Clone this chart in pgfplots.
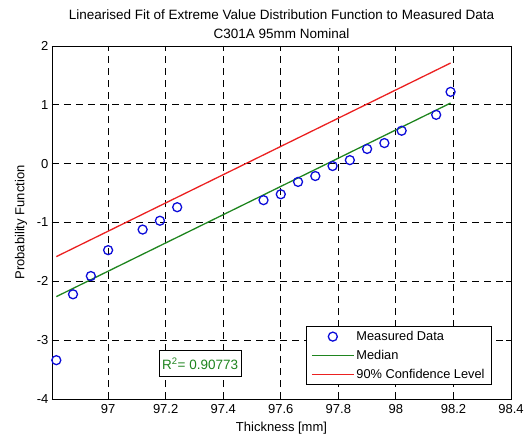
\documentclass[border=0pt]{standalone}
\usepackage{pgfplots}
\pgfplotsset{compat=1.18}
\usepackage{fontspec}
\setmainfont{Liberation Sans}
\definecolor{mgreen}{rgb}{0.12,0.52,0.12}
\definecolor{mred}{rgb}{0.92,0.13,0.13}
\definecolor{mblue}{rgb}{0.05,0.05,0.85}
\pgfplotsset{
  mylineleg/.style={legend image code/.code={\draw[##1] (0pt,0pt) -- (42pt,0pt);}},
  mymarkleg/.style={legend image code/.code={\draw[mark repeat=2,mark phase=2,##1] plot coordinates {(0pt,0pt)(21pt,0pt)(42pt,0pt)};}},
}
\begin{document}
\begin{tikzpicture}[x=1pt,y=1pt]
\path[use as bounding box] (-52,-38) rectangle (472,399);
\begin{axis}[
  at={(0,0)}, anchor=south west,
  scale only axis, width=459pt, height=353pt,
  xmin=96.805, xmax=98.4, ymin=-4, ymax=2,
  xtick={97,97.2,97.4,97.6,97.8,98,98.2,98.4},
  ytick={-4,-3,-2,-1,0,1,2},
  grid=major,
  major grid style={black, dash pattern=on 7pt off 5pt, line width=0.8pt},
  tick align=inside, major tick length=5pt,
  axis line style={black, line width=0.9pt},
  tick style={black, line width=0.8pt},
  /pgf/number format/assume math mode=true,
  ticklabel style={font=\fontsize{13}{15}\selectfont},
  xticklabel style={yshift=-2pt},
  xlabel={Thickness [mm]},
  ylabel={Probability Function},
  xlabel style={yshift=-1pt},
  ylabel style={yshift=3pt},
  label style={font=\fontsize{13}{15}\selectfont},
  title={Linearised Fit of Extreme Value Distribution Function to Measured Data\\C301A 95mm Nominal},
  title style={align=center, font=\fontsize{13.5}{19}\selectfont, yshift=-2pt},
  legend style={at={(1,0)}, anchor=south east, xshift=-19pt, yshift=14pt,
    draw=black, line width=0.9pt, fill=white,
    font=\fontsize{12.8}{15}\selectfont, row sep=4pt,
    inner xsep=5pt, inner ysep=3pt},
  legend cell align=left,
]
\addplot[only marks, mark=o, mark size=4.5pt, mblue, line width=1.3pt, mymarkleg]
coordinates {
(96.82,-3.34) (96.878,-2.22) (96.94,-1.91) (97.00,-1.47) (97.12,-1.12)
(97.18,-0.97) (97.24,-0.74) (97.54,-0.62) (97.60,-0.52) (97.66,-0.31)
(97.72,-0.21) (97.78,-0.04) (97.84,0.06) (97.90,0.25) (97.96,0.35)
(98.02,0.56) (98.14,0.83) (98.19,1.22)
};
\addlegendentry{Measured Data}
\addplot[mgreen, line width=1.3pt, mylineleg]
coordinates {(96.82,-2.26) (98.19,1.03)};
\addlegendentry{Median}
\addplot[mred, line width=1.3pt, mylineleg]
coordinates {(96.82,-1.58) (98.19,1.71)};
\addlegendentry{90\% Confidence Level}
\node[draw=black, fill=white, text=mgreen, line width=0.9pt,
  font=\fontsize{13.5}{15}\selectfont, minimum width=82pt, minimum height=26pt, inner sep=1pt]
  at (axis cs:97.32,-3.40) {R\textsuperscript{2}= 0.90773};
\end{axis}
\end{tikzpicture}
\end{document}
